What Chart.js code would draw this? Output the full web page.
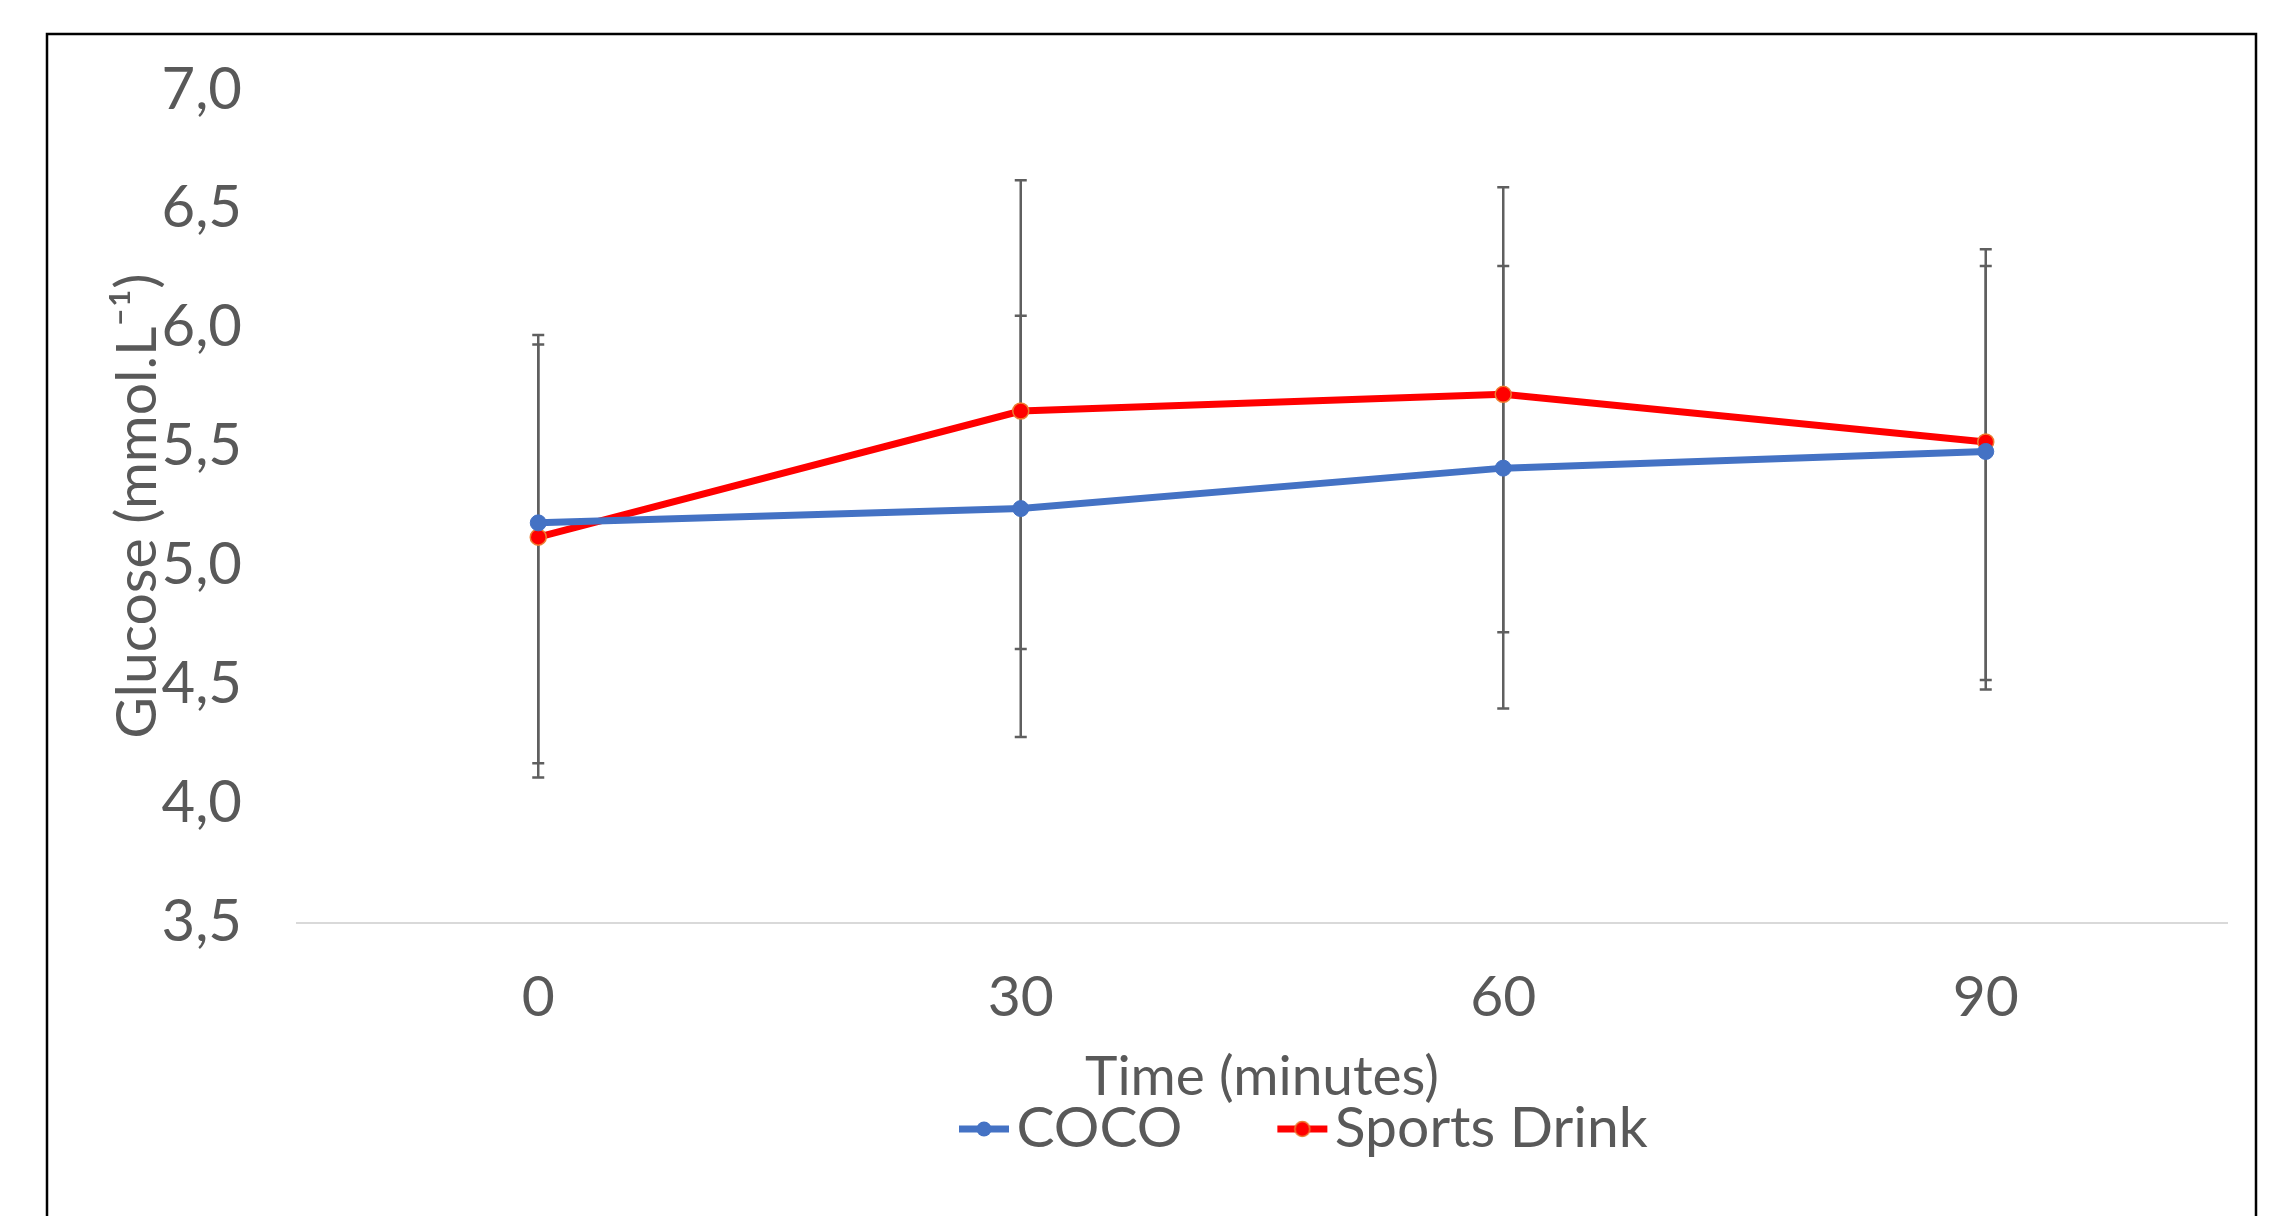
<!DOCTYPE html>
<html lang="en">
<head>
<meta charset="UTF-8">
<title>Glucose over time</title>
<script src="https://cdn.jsdelivr.net/npm/chart.js"></script>
<style>
  html, body { margin: 0; padding: 0; background: #fff; }
  #wrap { width: 2278px; height: 1216px; }
</style>
</head>
<body>
<div id="wrap"><canvas id="glucoseChart" width="2278" height="1216"></canvas></div>
<script>
// time points (minutes)
const times = ['0', '30', '60', '90'];

// mean glucose (mmol/L)
const coco = [5.18, 5.24, 5.41, 5.48];
const sportsDrink = [5.12, 5.65, 5.72, 5.52];

// error bar ends
const cocoHigh = [5.97, 6.05, 6.26, 6.26];
const cocoLow = [4.17, 4.28, 4.40, 4.48];
const sportsHigh = [5.93, 6.62, 6.59, 6.33];
const sportsLow = [4.11, 4.65, 4.72, 4.52];

// y axis range / ticks
const yMin = 3.5;
const yMax = 7.0;
const yStep = 0.5;

const textColor = '#595959';
const blue = '#4472C4';
const red = '#FF0000';
const orange = '#ED7D31';

Chart.defaults.font.family = 'Lato, "Open Sans", sans-serif';

// white background + the outer frame
const frame = {
  id: 'frame',
  beforeDraw(chart) {
    const ctx = chart.ctx;
    ctx.save();
    ctx.fillStyle = '#fff';
    ctx.fillRect(0, 0, chart.width, chart.height);
    ctx.strokeStyle = '#000';
    ctx.lineWidth = 2.5;
    ctx.beginPath();
    ctx.moveTo(47, chart.height + 5);
    ctx.lineTo(47, 34);
    ctx.lineTo(2256, 34);
    ctx.lineTo(2256, chart.height + 5);
    ctx.stroke();
    ctx.restore();
  }
};

// grey error bars with caps, behind the lines
const errorBars = {
  id: 'errorBars',
  beforeDatasetsDraw(chart) {
    const ctx = chart.ctx;
    const y = chart.scales.y;
    ctx.save();
    ctx.strokeStyle = '#5f5f5f';
    ctx.lineWidth = 2.5;
    chart.data.datasets.forEach((ds, d) => {
      chart.getDatasetMeta(d).data.forEach((pt, i) => {
        const top = y.getPixelForValue(ds.errHigh[i]);
        const bot = y.getPixelForValue(ds.errLow[i]);
        ctx.beginPath();
        ctx.moveTo(pt.x, top); ctx.lineTo(pt.x, bot);
        ctx.moveTo(pt.x - 6, top); ctx.lineTo(pt.x + 6, top);
        ctx.moveTo(pt.x - 6, bot); ctx.lineTo(pt.x + 6, bot);
        ctx.stroke();
      });
    });
    ctx.restore();
  }
};

// legend sits off-centre in the original, move it there
// (the legend clips to its own box, so the box is reset around the row)
const LEGEND_X = 980;
const LEGEND_ROW_Y = 1129;
const legendMove = {
  id: 'legendMove',
  afterLayout(chart) {
    const lg = chart.legend;
    if (!lg || !lg.lineWidths) return;
    const pad = lg.options.labels.padding;
    const fs = lg.options.labels.font.size;
    const startX = (lg.left + pad + lg.right - lg.lineWidths[0]) / 2;
    const dx = LEGEND_X - startX;
    lg.left += dx;
    lg.right += dx;
    lg.top = LEGEND_ROW_Y - fs / 2 - pad;
    lg.bottom = LEGEND_ROW_Y + fs / 2 + 20;
    lg.height = lg.bottom - lg.top;
  }
};

// line-with-dot legend symbol
function legendMarker(color, border) {
  const c = document.createElement('canvas');
  c.width = 54; c.height = 20;
  const g = c.getContext('2d');
  g.strokeStyle = color;
  g.lineWidth = 7;
  g.beginPath(); g.moveTo(2, 10); g.lineTo(52, 10); g.stroke();
  g.beginPath(); g.arc(27, 10, 7.5, 0, Math.PI * 2);
  g.fillStyle = color; g.fill();
  if (border) { g.lineWidth = 1.5; g.strokeStyle = border; g.stroke(); }
  return c;
}
const markers = [legendMarker(blue), legendMarker(red, orange)];

const ctx = document.getElementById('glucoseChart').getContext('2d');
new Chart(ctx, {
  type: 'line',
  data: {
    labels: times,
    datasets: [
      {
        label: 'COCO',
        data: coco,
        errHigh: cocoHigh,
        errLow: cocoLow,
        borderColor: blue,
        backgroundColor: blue,
        borderWidth: 7,
        pointRadius: 8,
        pointBackgroundColor: blue,
        pointBorderColor: blue,
        pointBorderWidth: 1,
        tension: 0
      },
      {
        label: 'Sports Drink',
        data: sportsDrink,
        errHigh: sportsHigh,
        errLow: sportsLow,
        borderColor: red,
        backgroundColor: red,
        borderWidth: 7,
        pointRadius: 8,
        pointBackgroundColor: red,
        pointBorderColor: orange,
        pointBorderWidth: 1.5,
        tension: 0
      }
    ]
  },
  options: {
    responsive: false,
    animation: false,
    layout: { padding: { left: 0, right: 51, top: 83, bottom: 66 } },
    scales: {
      x: {
        type: 'category',
        offset: true,
        grid: { display: false, drawTicks: false },
        border: { display: true, color: '#D9D9D9', width: 2 },
        ticks: { padding: 41, color: textColor, font: { size: 57 } },
        title: {
          display: true,
          text: 'Time (minutes)',
          color: textColor,
          font: { size: 55 },
          padding: { top: -29, bottom: 0 }
        }
      },
      y: {
        min: yMin,
        max: yMax,
        grid: { display: false, drawTicks: false },
        border: { display: false },
        ticks: {
          stepSize: yStep,
          padding: 55,
          color: textColor,
          font: { size: 58 },
          callback: (v) => v.toFixed(1).replace('.', ',')
        },
        title: {
          display: true,
          text: 'Glucose (mmol.L⁻¹)',
          color: textColor,
          font: { size: 57 },
          padding: { top: 103, bottom: 0 }
        },
        afterFit(scale) { scale.width = 297; }
      }
    },
    plugins: {
      legend: {
        position: 'bottom',
        maxHeight: 40,
        labels: {
          usePointStyle: true,
          pointStyleWidth: 8,
          padding: 116,
          color: textColor,
          font: { size: 57 },
          generateLabels(chart) {
            const items = Chart.defaults.plugins.legend.labels.generateLabels(chart);
            items.forEach((it, i) => { it.pointStyle = markers[i]; });
            return items;
          }
        }
      },
      tooltip: { enabled: false }
    }
  },
  plugins: [frame, errorBars, legendMove]
});
</script>
</body>
</html>
